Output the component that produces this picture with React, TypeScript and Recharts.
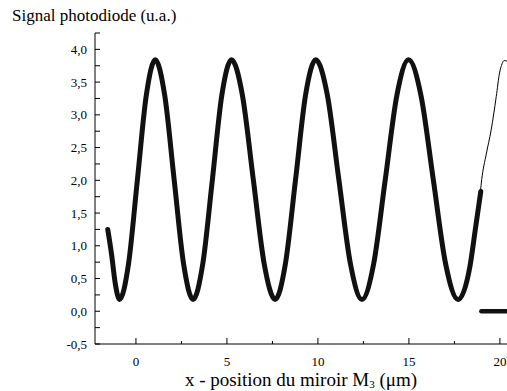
import React from 'react';
import { LineChart, Line, XAxis, YAxis } from 'recharts';

// Measured signal (dense markers in the reference)
const signalX = [
  -1.55, -1.33, -1.15, -0.9,
  -0.41, 0.08, 0.57, 1.06,
  1.58, 2.1, 2.62, 3.14,
  3.67, 4.2, 4.72, 5.25,
  5.85, 6.45, 7.05, 7.65,
  8.21, 8.77, 9.32, 9.88,
  10.52, 11.15, 11.79, 12.42,
  13.06, 13.7, 14.34, 14.98,
  15.66, 16.34, 17.02, 17.7,
  18.35, 18.65, 18.95,
];
const signalY = [
  1.25, 0.85, 0.45, 0.18,
  0.72, 2.01, 3.3, 3.84,
  3.3, 2.01, 0.72, 0.18,
  0.72, 2.01, 3.3, 3.84,
  3.3, 2.01, 0.72, 0.18,
  0.72, 2.01, 3.3, 3.84,
  3.3, 2.01, 0.72, 0.18,
  0.72, 2.01, 3.3, 3.84,
  3.3, 2.01, 0.72, 0.18,
  0.68, 1.25, 1.83,
];

// Thin continuation line
const fitX = [18.93, 19.0, 19.25, 19.52, 19.8, 19.98, 20.12, 20.24, 20.45];
const fitY = [1.83, 2.01, 2.4, 2.77, 3.28, 3.64, 3.78, 3.83, 3.81];

// Flat segment at zero
const offX = [18.98, 20.5];
const offY = [0, 0];

const xTicks = [0, 2.5, 5, 7.5, 10, 12.5, 15, 17.5, 20];
const yTicks = [-0.5, -0.25, 0, 0.25, 0.5, 0.75, 1, 1.25, 1.5, 1.75, 2, 2.25, 2.5, 2.75, 3, 3.25, 3.5, 3.75, 4, 4.25];

const yTitle = 'Signal photodiode (u.a.)';
const xTitleMain = 'x - position du miroir M';
const xTitleSub = '3';
const xTitleUnit = ' (μm)';

const signalData = signalX.map((x, i) => ({ x, y: signalY[i] }));
const fitData = fitX.map((x, i) => ({ x, y: fitY[i] }));
const offData = offX.map((x, i) => ({ x, y: offY[i] }));

const FONT = 'Liberation Serif';
const textStyle = { fontFamily: FONT, fill: '#000' } as React.CSSProperties;
const X_MARGIN = 4;
const Y_MARGIN = 8;

const XTick = (props: any) => {
  const { x, y, payload } = props;
  const axisY = y - X_MARGIN;
  const major = Math.abs(payload.value % 5) < 1e-6;
  return (
    <g>
      <line x1={x} x2={x} y1={axisY} y2={axisY - (major ? 6 : 3)} stroke="#000" strokeWidth={1} />
      {major && (
        <text
          x={x}
          y={axisY + 22}
          textAnchor="middle"
          fontFamily={FONT}
          fontSize={13}
          fill="#000"
          style={{ ...textStyle, fontSize: 13 }}
        >
          {String(payload.value)}
        </text>
      )}
    </g>
  );
};

const YTick = (props: any) => {
  const { x, y, payload } = props;
  const axisX = x + Y_MARGIN;
  const v = payload.value;
  const major = Math.abs(v * 2 - Math.round(v * 2)) < 1e-6;
  return (
    <g>
      <line x1={axisX} x2={axisX + 5} y1={y} y2={y} stroke="#000" strokeWidth={1} />
      {major && (
        <text
          x={axisX - 8}
          y={y + 4.5}
          textAnchor="end"
          fontFamily={FONT}
          fontSize={13}
          fill="#000"
          style={{ ...textStyle, fontSize: 13 }}
        >
          {v.toFixed(1).replace('.', ',')}
        </text>
      )}
    </g>
  );
};

export default function App() {
  return (
    <div
      style={{
        position: 'fixed',
        left: 0,
        top: 0,
        width: 507,
        height: 391,
        overflow: 'hidden',
        background: '#fff',
        fontFamily: FONT,
      }}
    >
      <LineChart
        width={520}
        height={391}
        margin={{ top: 33, right: 11, left: 45, bottom: 7 }}
        style={{ fontFamily: FONT }}
      >
        <XAxis
          type="number"
          dataKey="x"
          domain={[-2.25, 20.5]}
          allowDataOverflow
          ticks={xTicks}
          interval={0}
          tickSize={0}
          tickMargin={X_MARGIN}
          tickLine={false}
          tick={<XTick />}
          axisLine={{ stroke: '#000', strokeWidth: 1 }}
          height={40}
        />
        <YAxis
          type="number"
          dataKey="y"
          domain={[-0.5, 4.25]}
          allowDataOverflow
          ticks={yTicks}
          interval={0}
          tickSize={0}
          tickMargin={Y_MARGIN}
          tickLine={false}
          tick={<YTick />}
          axisLine={{ stroke: '#000', strokeWidth: 1 }}
          width={50}
        />
        <Line
          data={fitData}
          dataKey="y"
          type="monotone"
          stroke="#000"
          strokeWidth={1}
          dot={false}
          activeDot={false}
          isAnimationActive={false}
        />
        <Line
          data={signalData}
          dataKey="y"
          type="monotone"
          stroke="#111"
          strokeWidth={5}
          strokeLinecap="round"
          strokeLinejoin="round"
          dot={false}
          activeDot={false}
          isAnimationActive={false}
        />
        <Line
          data={offData}
          dataKey="y"
          type="linear"
          stroke="#111"
          strokeWidth={4.5}
          strokeLinecap="round"
          dot={false}
          activeDot={false}
          isAnimationActive={false}
        />
      </LineChart>
      <svg
        width={507}
        height={391}
        style={{ position: 'absolute', left: 0, top: 0, pointerEvents: 'none' }}
      >
        <text x={12} y={21} style={{ ...textStyle, fontSize: 17 }}>
          {yTitle}
        </text>
        <text x={301} y={386} textAnchor="middle" style={{ ...textStyle, fontSize: 19 }}>
          {xTitleMain}
          <tspan dy={2} style={{ fontSize: 11 }}>{xTitleSub}</tspan>
          <tspan dy={-2}>{xTitleUnit}</tspan>
        </text>
      </svg>
    </div>
  );
}
